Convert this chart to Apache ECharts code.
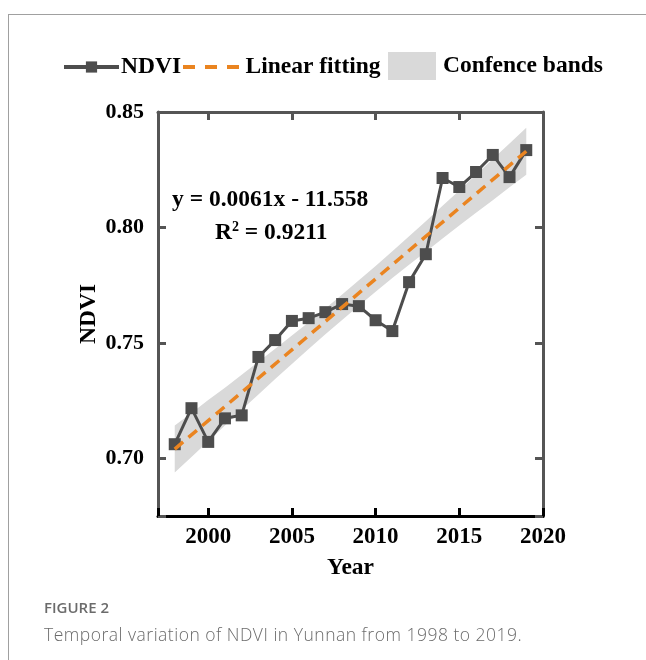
<!DOCTYPE html>
<html>
<head>
<meta charset="utf-8">
<script src="https://cdn.jsdelivr.net/npm/echarts@6/dist/echarts.min.js"></script>
<style>
html,body{margin:0;padding:0;background:#fff;}
#frame{position:absolute;left:8px;top:14px;width:640px;height:650px;border-left:1px solid #a0a0a0;border-top:1px solid #a0a0a0;}
#chart{position:absolute;left:0;top:0;width:646px;height:660px;}
#cap1{position:absolute;left:44px;top:597px;font-family:"Open Sans",sans-serif;font-size:15px;color:#6b6b6b;font-weight:600;}
#cap2{position:absolute;left:44px;top:622px;font-family:"Open Sans",sans-serif;font-size:17.5px;color:#6b6b6b;font-weight:300;letter-spacing:0.5px;}
</style>
</head>
<body>
<div id="frame"></div>
<div id="chart"></div>
<div id="cap1">FIGURE 2</div>
<div id="cap2">Temporal variation of NDVI in Yunnan from 1998 to 2019.</div>
<script>
const years = [1998,1999,2000,2001,2002,2003,2004,2005,2006,2007,2008,2009,2010,2011,2012,2013,2014,2015,2016,2017,2018,2019];
const ndvi = [0.7061,0.7217,0.7071,0.7173,0.7186,0.7439,0.7512,0.7595,0.7607,0.7633,0.7668,0.7659,0.7598,0.7551,0.7763,0.7884,0.8214,0.8175,0.8240,0.8314,0.8218,0.8335];
const fitYears = [1998, 2019];
const fitValues = [0.704, 0.833];
const bandUpper = [0.7142,0.7196,0.7252,0.7306,0.7362,0.7418,0.7475,0.7532,0.7589,0.7649,0.7709,0.7771,0.7833,0.7897,0.7962,0.8027,0.8094,0.8160,0.8228,0.8296,0.8364,0.8432];
const bandLower = [0.6938,0.7006,0.7074,0.7142,0.7210,0.7276,0.7343,0.7408,0.7473,0.7537,0.7599,0.7661,0.7721,0.7781,0.7838,0.7895,0.7952,0.8008,0.8064,0.8118,0.8174,0.8228];
const xRange = [1997, 2020];
const yRange = [0.675, 0.85];

const chart = echarts.init(document.getElementById('chart'));
const serif = '"Liberation Serif","Times New Roman",serif';
const gray = '#555555';
const legendText = {fontFamily: serif, fontWeight: 'bold', fontSize: 23.5, color: '#000'};
const dashIcon = 'path://M0,0L12,0L12,4L0,4Z M22,0L34,0L34,4L22,4Z M44,0L56,0L56,4L44,4Z';

function axisCommon(color, extra) {
  return Object.assign({
    type: 'value',
    axisLine: {show: true, onZero: false, lineStyle: {color: color, width: 3}},
    axisTick: {show: true, inside: true, length: 8, lineStyle: {color: color, width: 3}},
    splitLine: {show: false}
  }, extra);
}
const hiddenLabel = {show: true, formatter: () => ''};

const option = {
  animation: false,
  backgroundColor: 'transparent',
  grid: {left: 158, top: 112, right: 103, bottom: 144, containLabel: false},
  legend: [
    {
      left: 62, top: 55, padding: 0,
      itemWidth: 55, itemHeight: 14,
      lineStyle: {width: 4},
      textStyle: Object.assign({padding: [0,0,0,-3]}, legendText),
      data: ['NDVI']
    },
    {
      left: 183, top: 55, padding: 0,
      itemWidth: 57, itemHeight: 4,
      textStyle: Object.assign({padding: [0,0,0,1]}, legendText),
      data: [{name: 'Linear fitting', icon: dashIcon, itemStyle: {color: '#ea8420'}}]
    },
    {
      left: 388, top: 52, padding: 0,
      itemWidth: 48, itemHeight: 28,
      textStyle: Object.assign({padding: [0,0,0,2]}, legendText),
      data: [{name: 'Confence bands', icon: 'rect', itemStyle: {color: '#d9d9d9'}}]
    }
  ],
  xAxis: [
    axisCommon('#000', {
      position: 'bottom', min: xRange[0], max: xRange[1], splitNumber: 5,
      name: 'Year', nameLocation: 'middle', nameGap: 40,
      nameTextStyle: {fontFamily: serif, fontWeight: 'bold', fontSize: 23.5, color: '#000'},
      axisLabel: {show: true, margin: 10, fontFamily: serif, fontWeight: 'bold', fontSize: 23, color: '#000',
        formatter: v => (v % 5 === 0 ? String(v) : '')}
    }),
    axisCommon(gray, {
      position: 'top', min: xRange[0], max: xRange[1], splitNumber: 5,
      axisLabel: hiddenLabel
    })
  ],
  yAxis: [
    axisCommon(gray, {
      position: 'left', min: yRange[0], max: yRange[1], splitNumber: 4,
      name: 'NDVI', nameLocation: 'middle', nameGap: 57, nameRotate: 90, nameMoveOverlap: false,
      nameTextStyle: {fontFamily: serif, fontWeight: 'bold', fontSize: 23.5, color: '#000'},
      axisLabel: {show: true, margin: 14, fontFamily: serif, fontWeight: 'bold', fontSize: 22, color: '#000',
        formatter: v => (Math.abs(v * 20 - Math.round(v * 20)) < 1e-6 ? v.toFixed(2) : '')}
    }),
    axisCommon(gray, {
      position: 'right', min: yRange[0], max: yRange[1], splitNumber: 4,
      axisLabel: hiddenLabel
    })
  ],
  graphic: [
    {
      type: 'text', left: 172, top: 188, z: 100,
      style: {text: 'y = 0.0061x - 11.558', font: 'bold 23.5px ' + serif, fill: '#000'}
    },
    {
      type: 'text', left: 215, top: 220, z: 100,
      style: {
        text: 'R{sup|2} = 0.9211',
        font: 'bold 23.5px ' + serif, fill: '#000',
        rich: {sup: {fontFamily: serif, fontWeight: 'bold', fontSize: 14, padding: [0,0,11,0], fill: '#000'}}
      }
    }
  ],
  series: [
    {
      name: 'Confence bands', type: 'custom', xAxisIndex: 0, yAxisIndex: 0, z: 1,
      itemStyle: {color: '#d9d9d9'},
      data: years.map((y, i) => [y, bandLower[i], bandUpper[i]]),
      renderItem: function (params, api) {
        if (params.dataIndex !== 0) return null;
        const pts = [];
        for (let i = 0; i < years.length; i++) pts.push(api.coord([years[i], bandUpper[i]]));
        for (let i = years.length - 1; i >= 0; i--) pts.push(api.coord([years[i], bandLower[i]]));
        return {type: 'polygon', shape: {points: pts}, style: {fill: '#d9d9d9'}};
      }
    },
    {
      name: 'NDVI', type: 'line', z: 3,
      data: years.map((y, i) => [y, ndvi[i]]),
      symbol: 'rect', symbolSize: 12,
      lineStyle: {color: '#4d4d4d', width: 3},
      itemStyle: {color: '#4d4d4d'}
    },
    {
      name: 'Linear fitting', type: 'line', z: 4,
      data: fitYears.map((y, i) => [y, fitValues[i]]),
      symbol: 'none',
      lineStyle: {color: '#ea8420', width: 3.5, type: [11, 7]},
      itemStyle: {color: '#ea8420'}
    }
  ]
};
chart.setOption(option);
</script>
</body>
</html>
